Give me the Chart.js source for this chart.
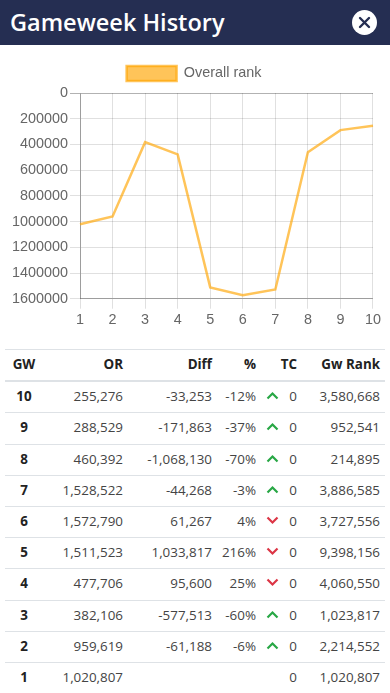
<!DOCTYPE html>
<html>
<head>
<meta charset="utf-8">
<title>Gameweek History</title>
<script src="https://cdn.jsdelivr.net/npm/chart.js@4/dist/chart.umd.min.js"></script>
<style>
  html, body { margin: 0; padding: 0; background: #fff; }
  body { width: 390px; height: 693px; overflow: hidden; position: relative; font-family: "Open Sans", sans-serif; }
  .head { height: 45px; background: #252e52; color: #fff; position: relative; }
  .head h1 { margin: 0; position: absolute; left: 10px; top: 4px; font-size: 23.5px; line-height: 36px; font-weight: 600; }
  .close { position: absolute; left: 352px; top: 10px; width: 25px; height: 25px; border-radius: 50%; background: #fff; }
  .close svg { display: block; }
  .chart-box { position: absolute; left: 4px; top: 54px; width: 380px; height: 278px; }
  table { position: absolute; left: 5px; top: 349px; width: 380px; border-collapse: collapse; table-layout: fixed; font-size: 13.4px; color: #444; }
  th, td { text-align: right; padding: 0 0 2px 0; height: 28.2px; border-top: 1px solid #dee2e6; white-space: nowrap; }
  th { color: #222; font-weight: 700; border-bottom: 2px solid #dee2e6; }
  td:first-child, th:first-child { text-align: center; font-weight: 700; color: #222; }
  td:last-child, th:last-child { padding-right: 5px; }
  td.arrow { text-align: center; padding-left: 8px; }
  td.arrow svg { display: inline-block; vertical-align: 1px; }
</style>
</head>
<body>
<div class="head">
  <h1>Gameweek History</h1>
  <div class="close"><svg width="25" height="25"><path d="M8 8 L17 17 M17 8 L8 17" stroke="#252e52" stroke-width="2.4" stroke-linecap="round"/></svg></div>
</div>
<div class="chart-box"><canvas id="rankChart" width="380" height="278"></canvas></div>
<table id="gwTable"></table>
<script>
const gameweeks = [1, 2, 3, 4, 5, 6, 7, 8, 9, 10];
const overallRank = [1020807, 959619, 382106, 477706, 1511523, 1572790, 1528522, 460392, 288529, 255276];
const rankDiff = ['', '-61,188', '-577,513', '95,600', '1,033,817', '61,267', '-44,268', '-1,068,130', '-171,863', '-33,253'];
const rankPct = ['', '-6%', '-60%', '25%', '216%', '4%', '-3%', '-70%', '-37%', '-12%'];
const transferCost = [0, 0, 0, 0, 0, 0, 0, 0, 0, 0];
const gwRank = [1020807, 2214552, 1023817, 4060550, 9398156, 3727556, 3886585, 214895, 952541, 3580668];
const tableHeads = ['GW', 'OR', 'Diff', '%', '', 'TC', 'Gw Rank'];
const colWidths = [38, 80, 89, 44, 24, 17, 88];

Chart.defaults.font.family = '"Liberation Sans", Arial, sans-serif';
Chart.defaults.color = '#666';

// bit more room under the legend
const legendGap = {
  id: 'legendGap',
  beforeInit(chart) {
    const fit = chart.legend.fit;
    chart.legend.fit = function () {
      fit.call(this);
      this.height += 2;
    };
  }
};

const rankChart = new Chart(document.getElementById('rankChart'), {
  type: 'line',
  plugins: [legendGap],
  data: {
    labels: gameweeks,
    datasets: [{
      label: 'Overall rank',
      data: overallRank,
      backgroundColor: 'rgba(255, 165, 0, 0.65)',
      borderColor: 'rgba(255, 165, 0, 0.65)',
      borderWidth: 2.5,
      fill: false,
      tension: 0,
      pointRadius: 0
    }]
  },
  options: {
    responsive: false,
    animation: false,
    plugins: {
      tooltip: { enabled: false },
      legend: {
        labels: { boxWidth: 50, boxHeight: 15, font: { size: 14.4 }, padding: 12 }
      }
    },
    scales: {
      x: {
        border: { color: 'rgba(0,0,0,0.3)' },
        grid: { color: 'rgba(0,0,0,0.12)', tickLength: 10 },
        ticks: { font: { size: 14.4 }, maxRotation: 0, padding: 3 }
      },
      y: {
        reverse: true,
        min: 0,
        max: 1600000,
        afterFit: scale => { scale.width = 76; },
        border: { color: 'rgba(0,0,0,0.3)' },
        grid: {
          color: ctx => ctx.tick.value === 0 ? 'rgba(0,0,0,0.3)' : 'rgba(0,0,0,0.12)',
          tickLength: 10
        },
        ticks: { stepSize: 200000, font: { size: 14.4 }, padding: 2, callback: v => String(v) }
      }
    }
  }
});

// table goes newest gameweek first
const chevronUp = '<svg width="13" height="9"><path d="M1.5 7.5 L6.5 2.5 L11.5 7.5" fill="none" stroke="#28a745" stroke-width="2.2"/></svg>';
const chevronDown = '<svg width="13" height="9"><path d="M1.5 1.5 L6.5 6.5 L11.5 1.5" fill="none" stroke="#dc3545" stroke-width="2.2"/></svg>';
const fmt = n => n.toLocaleString('en-US');

let html = '<colgroup>' + colWidths.map(w => '<col style="width:' + w + 'px">').join('') + '</colgroup>';
html += '<tr>' + tableHeads.map(h => '<th>' + h + '</th>').join('') + '</tr>';
for (let i = gameweeks.length - 1; i >= 0; i--) {
  let arrow = '';
  if (rankDiff[i] !== '') arrow = rankDiff[i][0] === '-' ? chevronUp : chevronDown;
  html += '<tr><td>' + gameweeks[i] + '</td><td>' + fmt(overallRank[i]) + '</td><td>' + rankDiff[i] + '</td><td>' + rankPct[i] +
    '</td><td class="arrow">' + arrow + '</td><td>' + transferCost[i] + '</td><td>' + fmt(gwRank[i]) + '</td></tr>';
}
document.getElementById('gwTable').innerHTML = html;
</script>
</body>
</html>
